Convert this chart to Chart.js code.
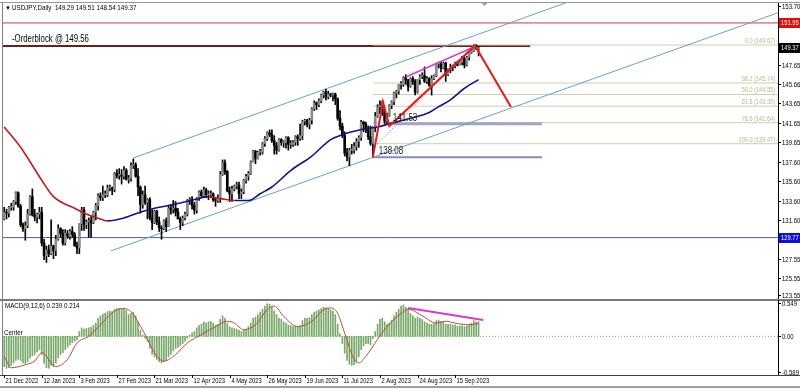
<!DOCTYPE html>
<html>
<head>
<meta charset="utf-8">
<script src="https://cdn.jsdelivr.net/npm/chart.js@4.4.0/dist/chart.umd.min.js"></script>
<style>
  body { margin: 0; background: #fff; width: 800px; height: 390px; overflow: hidden; position: relative; }
  #price { position: absolute; left: 0; top: 0; }
  #macd { position: absolute; left: 0; top: 300px; }
</style>
</head>
<body>
<canvas id="price" width="800" height="300"></canvas>
<canvas id="macd" width="800" height="90"></canvas>
<script>
// USDJPY daily, 21 Dec 2022 .. 29 Sep 2023 (one bar per weekday)
const dateIdx = [0, 16, 32, 48, 64, 80, 96, 112, 128, 144, 160, 176, 192];
const dateLabels = ['21 Dec 2022', '12 Jan 2023', '3 Feb 2023', '27 Feb 2023', '21 Mar 2023', '12 Apr 2023',
  '4 May 2023', '26 May 2023', '19 Jun 2023', '11 Jul 2023', '2 Aug 2023', '24 Aug 2023', '15 Sep 2023'];

const open = [
  131.7,132.4,132.3,132.9,132.9,133.5,134.4,133.0,131.1,130.7,131.0,132.2,134.0,132.1,131.9,132.2,
  132.4,129.2,127.9,128.5,128.1,128.9,128.4,129.6,130.7,130.2,129.2,130.2,129.9,130.4,130.1,128.9,
  128.7,131.2,132.6,131.1,131.4,131.5,131.3,132.4,133.1,134.1,133.9,134.2,134.2,134.9,134.9,134.7,
  136.4,136.2,136.2,136.1,136.7,135.8,135.9,137.2,137.3,136.1,135.0,133.2,134.2,133.4,133.7,131.8,
  131.3,132.5,131.4,130.8,130.7,131.5,130.9,132.8,132.7,132.8,132.4,131.7,131.3,131.8,132.2,133.6,
  133.7,133.1,132.6,133.8,134.5,134.1,134.7,134.2,134.2,134.3,133.7,133.6,133.9,136.3,137.5,136.6,
  134.6,134.3,134.8,135.1,135.2,134.3,134.5,135.7,136.1,136.4,137.6,138.7,137.9,138.6,138.6,139.5,
  140.0,140.6,140.4,139.8,139.3,138.8,139.9,139.6,139.6,140.1,139.4,139.4,139.6,140.2,140.0,140.3,
  141.8,141.9,141.5,141.9,143.1,143.7,143.5,143.9,144.5,144.8,144.3,144.6,144.5,144.6,144.1,142.1,
  141.3,140.3,138.5,138.1,138.8,138.8,139.2,139.7,140.1,141.7,141.5,140.9,140.2,139.5,141.2,142.3,
  143.3,143.3,142.6,141.8,142.4,143.4,143.8,144.7,144.9,145.6,145.6,146.3,146.1,145.4,146.2,145.9,
  144.8,146.1,146.4,146.5,145.9,146.2,145.5,146.2,146.5,147.7,147.7,147.3,147.8,146.6,147.1,147.4,
  147.5,147.8,147.6,147.9,148.3,147.6,148.4,148.9,149.1,149.6,149.29
];
const high = [
  132.9,132.7,133.0,133.3,133.6,134.5,134.5,133.2,131.3,131.4,132.7,134.1,134.8,132.7,132.3,132.9,
  132.9,129.6,128.9,129.0,131.6,129.0,130.0,131.1,130.8,130.6,130.6,130.5,130.6,130.9,130.3,129.3,
  131.2,132.9,132.9,131.6,131.8,132.0,132.5,133.3,134.3,134.4,135.1,134.6,135.2,135.2,135.0,136.5,
  136.8,136.9,136.8,137.1,136.9,136.2,137.5,137.9,137.5,136.9,135.1,134.6,135.1,133.8,133.9,132.7,
  132.6,132.6,131.9,131.0,131.6,131.8,133.0,133.2,133.6,133.5,132.8,131.9,132.0,132.4,133.7,133.9,
  134.0,133.4,133.9,134.6,134.7,135.0,134.9,134.6,134.6,134.4,133.9,134.2,136.6,137.8,137.8,136.7,
  135.0,135.1,135.2,135.5,135.5,134.8,135.8,136.3,136.6,137.7,138.8,138.8,138.7,138.9,139.6,140.2,
  140.7,140.9,140.9,140.3,139.6,140.0,140.0,139.8,140.2,140.2,139.8,139.8,140.3,140.4,141.5,141.9,
  142.0,142.0,142.1,143.2,143.9,143.8,144.1,144.6,144.9,145.1,144.9,144.7,144.7,144.7,144.2,142.9,
  141.6,140.7,139.0,139.0,139.4,139.6,140.0,140.3,141.9,141.8,141.7,141.3,141.3,141.2,142.7,143.5,
  143.9,143.9,143.0,142.6,143.5,143.9,144.8,145.0,145.6,145.9,146.4,146.6,146.1,146.3,146.4,146.1,
  146.1,146.6,146.8,147.4,146.4,146.3,146.5,146.6,147.8,147.9,147.9,147.9,147.9,147.2,147.7,147.6,
  147.9,148.0,148.0,148.5,148.4,148.5,148.9,149.2,149.7,149.7,149.51
];
const low = [
  131.6,131.7,131.9,132.6,132.6,133.2,132.9,130.9,130.4,129.5,130.8,132.1,132.0,131.5,131.3,131.7,
  128.9,127.5,127.2,127.8,128.0,127.6,127.9,129.5,129.8,129.0,129.0,129.7,129.6,129.8,128.9,128.1,
  128.1,130.5,130.5,130.7,129.8,129.8,131.2,131.6,132.6,133.6,133.6,133.9,134.0,134.6,134.2,134.5,
  135.9,135.8,135.3,135.8,135.7,135.4,135.6,136.9,136.0,134.1,132.3,132.8,133.2,131.7,131.6,130.6,
  131.2,131.1,130.4,129.6,130.6,130.4,130.9,132.2,132.3,132.0,131.7,130.6,131.0,131.6,132.0,133.2,
  132.7,132.2,132.3,133.6,133.9,133.9,133.9,133.7,133.9,133.5,133.0,133.4,133.4,136.2,136.3,134.5,
  133.5,133.5,134.6,134.8,133.8,133.8,134.3,135.4,135.7,136.3,137.6,137.4,137.9,138.3,138.4,139.2,
  139.8,140.2,139.6,138.4,138.4,138.7,139.3,139.1,139.0,138.8,139.0,139.2,139.3,139.3,139.8,139.9,
  141.4,141.2,141.0,141.5,142.9,143.0,143.3,143.7,144.2,144.0,144.1,144.3,143.9,143.5,141.9,140.9,
  140.1,138.2,137.7,137.2,138.4,138.5,138.8,139.1,139.8,140.7,140.6,139.9,139.3,138.1,140.7,142.2,
  142.6,142.4,141.5,141.5,142.3,143.1,143.5,144.2,144.6,145.1,145.4,145.6,144.9,145.3,145.6,144.5,
  144.7,145.6,146.2,145.8,145.7,145.4,144.5,146.1,146.4,147.3,146.9,147.2,145.9,146.5,146.8,147.0,
  147.3,147.5,147.6,147.6,147.3,147.5,148.1,148.8,149.0,149.2,148.54
];
const close = [
  132.4,132.3,132.9,132.9,133.5,134.4,133.0,131.1,130.7,131.0,132.2,134.0,132.1,131.9,132.2,132.4,
  129.2,127.9,128.5,128.1,128.9,128.4,129.6,130.7,130.2,129.2,130.2,129.9,130.4,130.1,128.9,128.7,
  131.2,132.6,131.1,131.4,131.5,131.3,132.4,133.1,134.1,133.9,134.2,134.2,134.9,134.9,134.7,136.4,
  136.2,136.2,136.1,136.7,135.8,135.9,137.2,137.3,136.1,135.0,133.2,134.2,133.4,133.7,131.8,131.3,
  132.5,131.4,130.8,130.7,131.5,130.9,132.8,132.7,132.8,132.4,131.7,131.3,131.8,132.2,133.6,133.7,
  133.1,132.6,133.8,134.5,134.1,134.7,134.2,134.2,134.3,133.7,133.6,133.9,136.3,137.5,136.6,134.6,
  134.3,134.8,135.1,135.2,134.3,134.5,135.7,136.1,136.4,137.6,138.7,137.9,138.6,138.6,139.5,140.0,
  140.6,140.4,139.8,139.3,138.8,139.9,139.6,139.6,140.1,139.4,139.4,139.6,140.2,140.0,140.3,141.8,
  141.9,141.5,141.9,143.1,143.7,143.5,143.9,144.5,144.8,144.3,144.6,144.5,144.6,144.1,142.1,141.3,
  140.3,138.5,138.1,138.8,138.8,139.2,139.7,140.1,141.7,141.5,140.9,140.2,139.5,141.2,142.3,143.3,
  143.3,142.6,141.8,142.4,143.4,143.8,144.7,144.9,145.6,145.6,146.3,146.1,145.4,146.2,145.9,144.8,
  146.1,146.4,146.5,145.9,146.2,145.5,146.2,146.5,147.7,147.7,147.3,147.8,146.6,147.1,147.4,147.5,
  147.8,147.6,147.9,148.3,147.6,148.4,148.9,149.1,149.6,149.3,149.37
];

// moving average (bar index, price)
const maIdx = [0, 7, 16, 21, 30, 36, 41, 44, 51, 58, 66, 74, 81, 87, 92, 98, 104, 109, 114, 122, 131, 139, 144, 148, 153, 159, 165, 173, 181, 185, 190, 196, 202];
const maVal = [141.2, 139.1, 135.7, 134.0, 132.8, 132.1, 131.7, 131.5, 131.8, 132.4, 132.9, 133.3, 133.7, 134.0, 133.8, 133.6, 133.6, 134.3, 135.0, 136.7, 138.2, 139.9, 140.4, 140.7, 141.0, 141.2, 141.6, 142.1, 142.7, 143.3, 144.0, 145.2, 146.1];

// MACD(9,12,6) main histogram, one value per bar
const macdMain = [
  -0.50,-0.53,-0.52,-0.48,-0.44,-0.40,-0.38,-0.40,-0.44,-0.45,-0.42,-0.36,-0.32,-0.30,-0.26,-0.22,
  -0.30,-0.45,-0.52,-0.53,-0.48,-0.50,-0.44,-0.36,-0.30,-0.27,-0.22,-0.18,-0.14,-0.10,-0.08,-0.06,
  0.08,0.14,0.12,0.13,0.14,0.15,0.18,0.22,0.30,0.34,0.37,0.38,0.41,0.42,0.41,0.45,
  0.46,0.46,0.45,0.46,0.43,0.36,0.38,0.40,0.34,0.24,0.10,0.02,-0.03,-0.08,-0.20,-0.30,
  -0.34,-0.38,-0.42,-0.44,-0.42,-0.40,-0.34,-0.30,-0.24,-0.20,-0.18,-0.15,-0.12,-0.08,-0.03,0.02,
  0.06,0.08,0.14,0.18,0.20,0.24,0.22,0.24,0.25,0.22,0.18,0.20,0.28,0.34,0.30,0.22,
  0.16,0.14,0.13,0.12,0.10,0.08,0.10,0.12,0.16,0.22,0.30,0.32,0.36,0.40,0.45,0.50,
  0.54,0.53,0.49,0.42,0.36,0.30,0.28,0.24,0.22,0.19,0.18,0.16,0.17,0.16,0.18,0.26,
  0.30,0.30,0.31,0.36,0.40,0.42,0.44,0.46,0.48,0.47,0.46,0.44,0.42,0.36,0.20,0.04,
  -0.12,-0.28,-0.40,-0.46,-0.48,-0.47,-0.42,-0.34,-0.22,-0.16,-0.12,-0.12,-0.14,-0.04,0.08,0.20,
  0.28,0.30,0.24,0.20,0.22,0.27,0.34,0.40,0.45,0.50,0.52,0.48,0.45,0.38,0.34,0.30,
  0.32,0.30,0.28,0.24,0.22,0.20,0.20,0.21,0.26,0.27,0.25,0.24,0.20,0.20,0.20,0.19,
  0.19,0.17,0.17,0.18,0.16,0.17,0.20,0.22,0.26,0.24,0.239
];
const sigIdx = [0, 3, 9, 13, 16, 22, 27, 31, 36, 41, 46, 50, 53, 58, 61, 65, 68, 73, 78, 84, 90, 95, 98, 102, 107, 112, 115, 119, 125, 131, 136, 139, 142, 145, 149, 151, 154, 159, 163, 169, 172, 178, 184, 188, 192, 198, 202];
const sigVal = [-0.33, -0.52, -0.47, -0.41, -0.27, -0.50, -0.38, -0.11, 0.00, 0.19, 0.39, 0.46, 0.44, 0.17, -0.05, -0.33, -0.41, -0.30, -0.11, 0.03, 0.16, 0.25, 0.22, 0.11, 0.19, 0.44, 0.50, 0.33, 0.16, 0.25, 0.44, 0.47, 0.38, 0.05, -0.38, -0.44, -0.33, -0.05, 0.16, 0.38, 0.45, 0.34, 0.22, 0.25, 0.22, 0.19, 0.214];

const priceTicks = [153.70, 151.70, 149.70, 147.65, 145.66, 143.65, 141.65, 139.65, 137.60, 135.60, 133.60, 131.60, 129.60, 127.55, 125.55, 123.55];
const macdTicks = [0.549, 0, -0.589];
const macdTickLabels = ['0.549', '0.00', '-0.589'];

// levels and drawn objects
const resistance = 151.95;
const orderblock = 149.56;
const support = 129.77;
const lastPrice = 149.37;
const fibLevels = [149.67, 145.74, 144.55, 143.35, 141.64, 139.47];
const fibNames = ['0.0', '38.2', '50.0', '61.8', '78.6', '100.0'];
const channelUpper = [[55, 138.0], [240, 154.1]];
const channelLower = [[45.5, 128.4], [329.5, 153.0]];
const zigzag = [[157, 138.08], [161.3, 143.8], [164, 141.3], [200.5, 149.6], [215.8, 143.27]];
const priceDivergence = [[171, 146.37], [200, 149.46]];
const macdDivergence = [[172, 0.47], [204, 0.27]];
const box4153 = [[163, 141.53], [229, 141.53]];
const box3808 = [[157, 138.08], [229, 138.08]];
const fibDiagonal = [[159, 139.47], [200, 149.67]];

const X0 = -0.5, X1 = 329.5;

function seg(pts, color, width, dash) {
  return {
    type: 'line',
    data: pts.map(p => ({x: p[0], y: p[1]})),
    borderColor: color,
    borderWidth: width,
    borderDash: dash || [],
    pointRadius: 0,
    tension: 0,
    fill: false
  };
}

function txt(ctx, s, px, py, size, color, align, sx) {
  ctx.save();
  ctx.translate(px, py);
  ctx.scale(sx || 0.8, 1);
  ctx.font = size + 'px "Liberation Sans", Arial, sans-serif';
  ctx.fillStyle = color;
  ctx.textAlign = align || 'left';
  ctx.textBaseline = 'middle';
  ctx.fillText(s, 0, 0);
  ctx.restore();
}

function hline(ctx, y, x0, x1, color, w) {
  ctx.save();
  ctx.strokeStyle = color;
  ctx.lineWidth = w || 1;
  ctx.beginPath();
  ctx.moveTo(x0, y);
  ctx.lineTo(x1, y);
  ctx.stroke();
  ctx.restore();
}
function vline(ctx, x, y0, y1, color, w) {
  ctx.save();
  ctx.strokeStyle = color;
  ctx.lineWidth = w || 1;
  ctx.beginPath();
  ctx.moveTo(x, y0);
  ctx.lineTo(x, y1);
  ctx.stroke();
  ctx.restore();
}

const priceDecor = {
  id: 'priceDecor',
  afterDraw(chart) {
    const ctx = chart.ctx;
    const x = chart.scales.x, y = chart.scales.y;
    const right = chart.chartArea.right;

    // frame
    hline(ctx, 2.5, 0, 800, '#9a9a9a');
    vline(ctx, 2.5, 2, 299, '#808080');
    hline(ctx, 299.5, 0, 800, '#7a7a7a', 1);
    vline(ctx, right + 0.5, 3, 299, '#000');

    // right axis
    priceTicks.forEach(v => {
      const py = Math.min(Math.round(y.getPixelForValue(v)), 295) + 0.5;
      hline(ctx, py, right, right + 3, '#000');
      txt(ctx, v.toFixed(2), right + 4, py, 8, '#000', 'left', 0.75);
    });

    // header
    txt(ctx, '\u25BC', 5, 8, 6, '#000', 'left', 1);
    txt(ctx, 'USDJPY,Daily  149.29 149.51 148.54 149.37', 12, 8, 8, '#000', 'left', 0.78);
    txt(ctx, '-Orderblock @ 149.56', 12, y.getPixelForValue(orderblock) - 7, 10, '#000', 'left', 0.78);

    // fibo labels
    fibLevels.forEach((v, k) => {
      txt(ctx, fibNames[k] + ' (' + v.toFixed(2) + ')', right - 3, y.getPixelForValue(v) - 4, 7, '#b9b98c', 'right', 0.8);
    });

    txt(ctx, '141.53', x.getPixelForValue(165.5), y.getPixelForValue(141.53) - 6, 10, '#222', 'left', 0.8);
    txt(ctx, '138.08', x.getPixelForValue(159.5), y.getPixelForValue(138.08) - 6, 10, '#222', 'left', 0.8);

    // shift marker
    ctx.save();
    ctx.fillStyle = '#9a9a9a';
    const mx = x.getPixelForValue(204.5);
    ctx.beginPath();
    ctx.moveTo(mx - 3, 3); ctx.lineTo(mx + 3, 3); ctx.lineTo(mx, 6); ctx.closePath();
    ctx.fill();
    ctx.restore();

    // price boxes
    [[resistance, '#e01010'], [lastPrice, '#000000'], [support, '#1010d0']].forEach(b => {
      const py = Math.round(y.getPixelForValue(b[0]));
      ctx.fillStyle = b[1];
      ctx.fillRect(right + 1, py - 5, 800 - right - 1, 10);
      txt(ctx, b[0].toFixed(2), right + 3, py, 8, '#fff', 'left', 0.72);
    });
  }
};

const idx = close.map((_, i) => i);

new Chart(document.getElementById('price'), {
  type: 'bar',
  data: {
    datasets: [
      seg(zigzag, '#e01e1e', 2),
      seg(priceDivergence, '#d43cd4', 1.5),
      {
        type: 'line',
        data: maIdx.map((v, k) => ({x: v, y: maVal[k]})),
        borderWidth: 1.6,
        pointRadius: 0,
        cubicInterpolationMode: 'monotone',
        segment: {
          borderColor: c => c.p1.parsed.y < c.p0.parsed.y - 0.01 ? '#c41a1a' : '#12128c'
        },
        borderColor: '#12128c'
      },
      {
        type: 'bar',
        data: idx.map(i => ({x: i, y: [open[i], close[i]]})),
        backgroundColor: idx.map(i => close[i] >= open[i] ? '#8a8a8a' : '#000000'),
        barThickness: 2,
        minBarLength: 1,
        grouped: false
      },
      {
        type: 'bar',
        data: idx.map(i => ({x: i, y: [low[i], high[i]]})),
        backgroundColor: '#000000',
        barThickness: 1,
        grouped: false
      },
      seg(fibDiagonal, '#e04040', 1, [1, 2]),
      seg(channelUpper, '#6aa0c8', 1),
      seg(channelLower, '#6aa0c8', 1),
      seg(box4153, '#a4a4c4', 3),
      seg(box3808, '#8a8ab8', 2),
      ...fibLevels.map(v => seg([[157, v], [X1, v]], '#cfcfae', 1)),
      seg([[X0, orderblock], [224, orderblock]], '#6e1c1c', 2),
      seg([[X0, resistance], [X1, resistance]], '#c83c3c', 1),
      seg([[X0, support], [X1, support]], '#5858a4', 1)
    ]
  },
  options: {
    responsive: false,
    animation: false,
    layout: {padding: {left: 3, right: 22, top: 3, bottom: 2}},
    plugins: {legend: {display: false}, tooltip: {enabled: false}},
    scales: {
      x: {type: 'linear', min: X0, max: X1, offset: false, display: false},
      y: {min: 123.53, max: 154.01, display: false}
    }
  },
  plugins: [priceDecor]
});

const macdDecor = {
  id: 'macdDecor',
  afterDraw(chart) {
    const ctx = chart.ctx;
    const x = chart.scales.x, y = chart.scales.y;
    const area = chart.chartArea;

    hline(ctx, 0.5, 0, 800, '#7a7a7a', 1);
    vline(ctx, 2.5, 0, area.bottom, '#808080');
    vline(ctx, area.right + 0.5, 0, area.bottom, '#000');
    hline(ctx, area.bottom + 0.5, 0, 800, '#404040');
    hline(ctx, 87, 0, 800, '#a0a0a0', 2);

    macdTicks.forEach((v, k) => {
      const py = Math.round(y.getPixelForValue(v)) + 0.5;
      hline(ctx, py, area.right, area.right + 3, '#000');
      txt(ctx, macdTickLabels[k], area.right + 4, py, 8, '#000', 'left', 0.75);
    });

    dateIdx.forEach((v, k) => {
      const px = Math.round(x.getPixelForValue(v)) + 0.5;
      vline(ctx, px, area.bottom, area.bottom + 3, '#000');
      txt(ctx, dateLabels[k], px + 1, area.bottom + 6, 8, '#000', 'left', 0.72);
    });

    txt(ctx, 'MACD(9,12,6) 0.239 0.214', 5, 6, 8, '#000', 'left', 0.78);
    txt(ctx, 'Center', 4, y.getPixelForValue(0) - 4, 8, '#000', 'left', 0.78);
  }
};

new Chart(document.getElementById('macd'), {
  type: 'bar',
  data: {
    datasets: [
      seg(macdDivergence, '#d43cd4', 2),
      {
        type: 'line',
        data: sigIdx.map((v, k) => ({x: v, y: sigVal[k]})),
        borderColor: '#b84a3c',
        borderWidth: 1,
        pointRadius: 0,
        cubicInterpolationMode: 'monotone'
      },
      {
        type: 'bar',
        data: idx.map(i => ({x: i, y: macdMain[i]})),
        backgroundColor: '#78a86a',
        barThickness: 1,
        grouped: false
      },
      seg([[X0, 0], [X1, 0]], '#9a9a9a', 1, [1, 2])
    ]
  },
  options: {
    responsive: false,
    animation: false,
    layout: {padding: {left: 3, right: 22, top: 1, bottom: 15}},
    plugins: {legend: {display: false}, tooltip: {enabled: false}},
    scales: {
      x: {type: 'linear', min: X0, max: X1, offset: false, display: false},
      y: {min: -0.64, max: 0.585, display: false}
    }
  },
  plugins: [macdDecor]
});
</script>
</body>
</html>
